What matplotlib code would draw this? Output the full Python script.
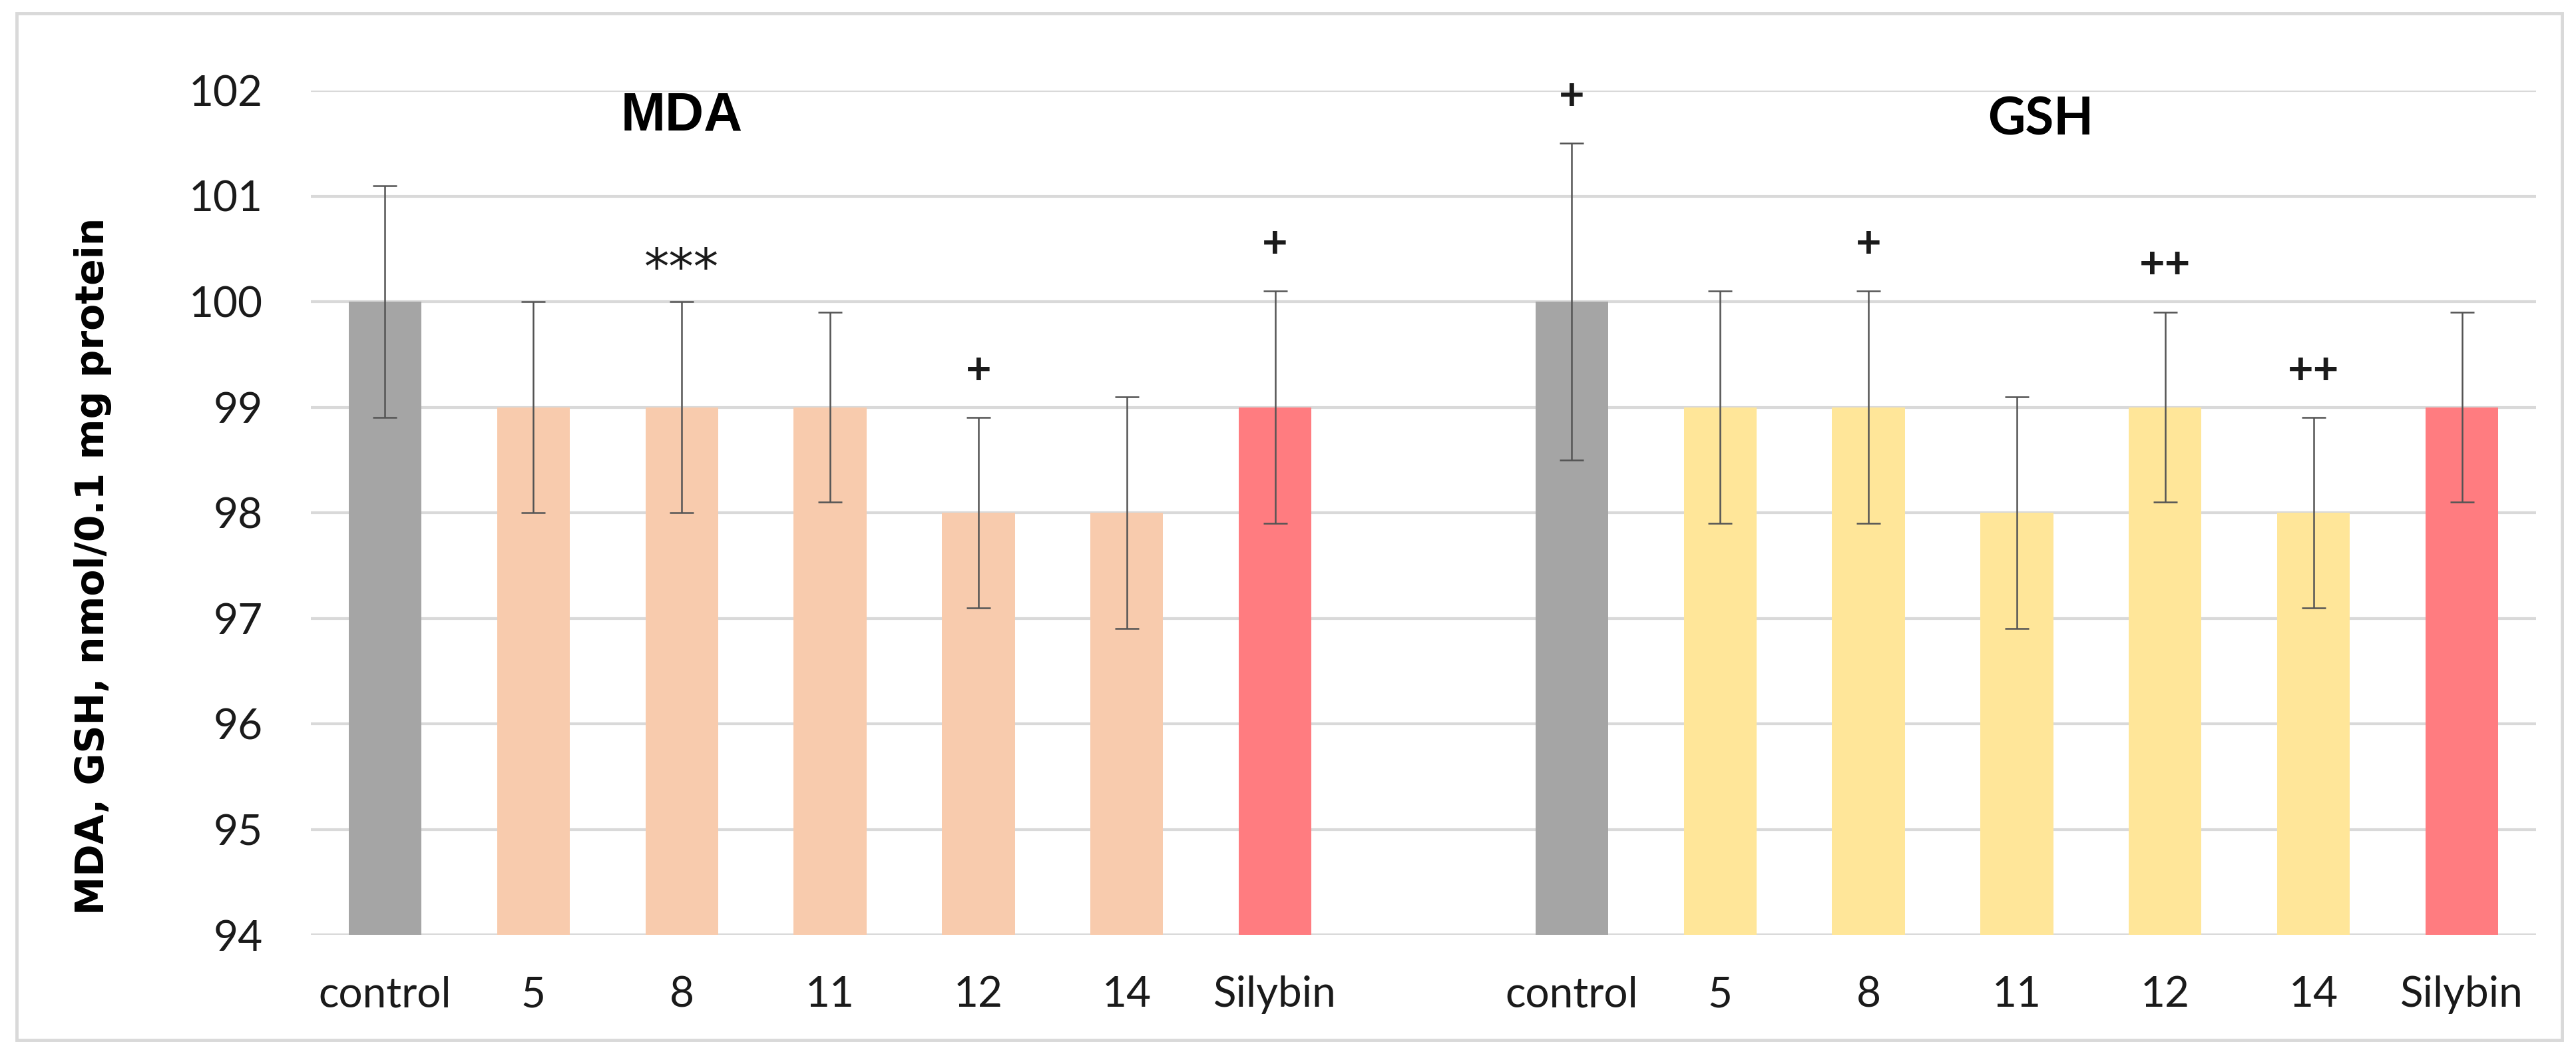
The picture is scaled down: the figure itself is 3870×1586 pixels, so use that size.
import matplotlib
matplotlib.use('Agg')
import matplotlib.pyplot as plt
from matplotlib.patches import Rectangle
import numpy as np

# categories (an empty slot separates the two groups)
labels = ['control', '5', '8', '11', '12', '14', 'Silybin', '',
          'control', '5', '8', '11', '12', '14', 'Silybin']

mda_values = [100, 99, 99, 99, 98, 98, 99]
mda_err = [1.1, 1.0, 1.0, 0.9, 0.9, 1.1, 1.1]
mda_marks = ['', '', '***', '', '+', '', '+']

gsh_values = [100, 99, 99, 98, 99, 98, 99]
gsh_err = [1.5, 1.1, 1.1, 1.1, 0.9, 0.9, 0.9]
gsh_marks = ['+', '', '+', '', '++', '++', '']

C_CONTROL = '#a5a5a5'
C_MDA = '#f8cbad'
C_GSH = '#ffe699'
C_SILYBIN = '#ff7c80'

plt.rcParams['font.family'] = ['Lato', 'DejaVu Sans']

fig = plt.figure(figsize=(38.7, 15.86), dpi=100)
ax = fig.add_axes([467 / 3870, 1 - 1404 / 1586, (3810 - 467) / 3870, (1404 - 136) / 1586])

x_mda = np.arange(7)
x_gsh = np.arange(8, 15)
width = 0.49

err_kw = dict(fmt='none', ecolor='#545454', elinewidth=1.8, capsize=13, capthick=1.8, zorder=3)

ax.bar(x_mda, mda_values, width, color=[C_CONTROL] + [C_MDA] * 5 + [C_SILYBIN], zorder=2)
ax.errorbar(x_mda, mda_values, yerr=mda_err, **err_kw)
ax.bar(x_gsh, gsh_values, width, color=[C_CONTROL] + [C_GSH] * 5 + [C_SILYBIN], zorder=2)
ax.errorbar(x_gsh, gsh_values, yerr=gsh_err, **err_kw)

# significance marks above the error bars
for xs, vals, errs, marks in [(x_mda, mda_values, mda_err, mda_marks),
                              (x_gsh, gsh_values, gsh_err, gsh_marks)]:
    for x, v, e, m in zip(xs, vals, errs, marks):
        if not m:
            continue
        if '*' in m:
            ax.annotate(m, xy=(x, v + e), xytext=(0, 34), textcoords='offset points',
                        ha='center', va='center', fontsize=54, color='#1a1a1a',
                        family='DejaVu Sans')
        else:
            ax.annotate(m, xy=(x, v + e), xytext=(0, 50), textcoords='offset points',
                        ha='center', va='center', fontsize=48, fontweight='bold',
                        color='#1a1a1a')

ax.text(2.0, 101.76, 'MDA', ha='center', va='center', fontsize=58,
        fontweight='bold', family='Liberation Sans')
ax.text(11.16, 101.72, 'GSH', ha='center', va='center', fontsize=56, fontweight='bold')

ax.set_xlim(-0.5, 14.5)
ax.set_ylim(94, 102)
ax.set_yticks(range(94, 103))
ax.set_xticks(range(15))
ax.set_xticklabels(labels)
ax.tick_params(axis='both', length=0, labelsize=46, colors='#1a1a1a')
ax.tick_params(axis='y', pad=52)
ax.tick_params(axis='x', pad=44)
ax.grid(axis='y', color='#d9d9d9', linewidth=3, zorder=0)
ax.set_axisbelow(True)
for s in ax.spines.values():
    s.set_visible(False)

fig.text(140 / 3870, 1 - 850 / 1586, 'MDA, GSH, nmol/0.1 mg protein', rotation=90,
         ha='center', va='center', fontsize=42, fontweight='bold', family='DejaVu Sans')

# light frame around the chart
fig.patches.append(Rectangle((25 / 3870, 1 - 1562 / 1586), (3849 - 25) / 3870, (1562 - 20) / 1586,
                             transform=fig.transFigure, fill=False, edgecolor='#d9d9d9',
                             linewidth=3.5))

fig.savefig('out.png', dpi=100)
